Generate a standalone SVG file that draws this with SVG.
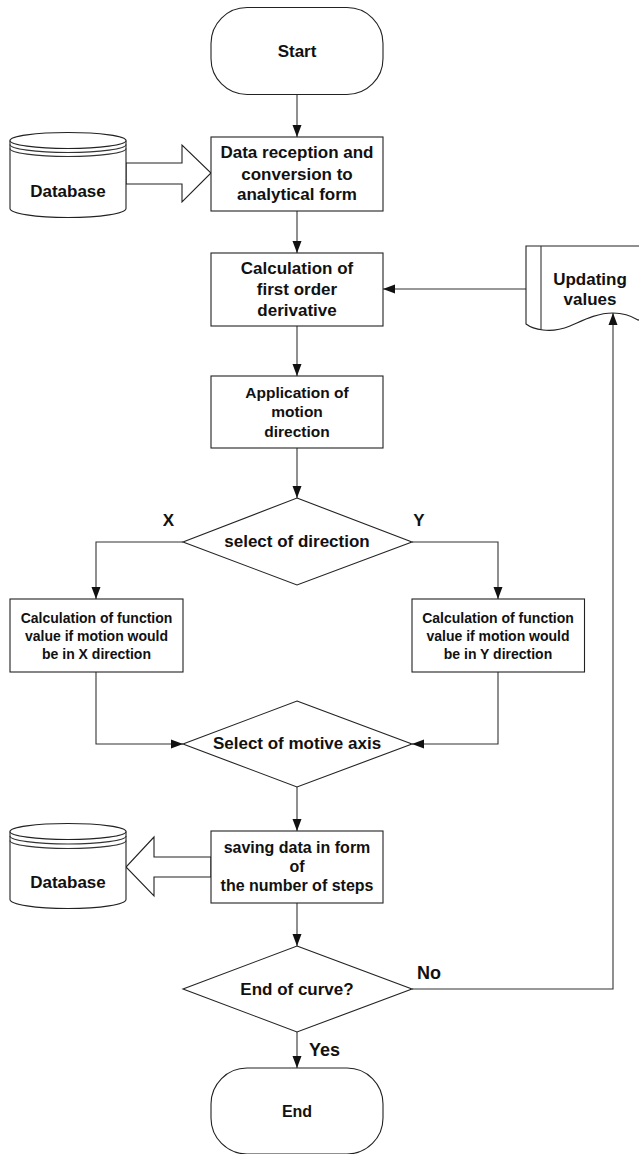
<svg xmlns="http://www.w3.org/2000/svg" width="639" height="1154" viewBox="0 0 639 1154">
<defs>
<marker id="ah" markerWidth="12" markerHeight="10" refX="12" refY="5" orient="auto" markerUnits="userSpaceOnUse">
<path d="M0,0.5 L12,5 L0,9.5 Z" fill="#111"/>
</marker>
<style>
.s{fill:#fff;stroke:#222;stroke-width:1.1}
.c{fill:none;stroke:#333;stroke-width:1.1}
.t{font-family:"Liberation Sans",Arial,sans-serif;font-weight:bold;fill:#111;text-anchor:middle}
.f17{font-size:17px}
.f16{font-size:16px}
.f15{font-size:15.5px}
.f14{font-size:14px}
.f18{font-size:18px}
</style>
</defs>
<rect width="639" height="1154" fill="#fff"/>

<g id="connectors">
<line class="c" x1="297" y1="94.5" x2="297" y2="137" marker-end="url(#ah)"/>
<line class="c" x1="297" y1="211" x2="297" y2="253" marker-end="url(#ah)"/>
<line class="c" x1="297" y1="326" x2="297" y2="376" marker-end="url(#ah)"/>
<line class="c" x1="297" y1="448" x2="297" y2="498" marker-end="url(#ah)"/>
<polyline class="c" points="183,542 96,542 96,599" marker-end="url(#ah)"/>
<polyline class="c" points="412,542 498,542 498,599" marker-end="url(#ah)"/>
<polyline class="c" points="96,672 96,744 183,744" marker-end="url(#ah)"/>
<polyline class="c" points="498,672 498,744 412,744" marker-end="url(#ah)"/>
<line class="c" x1="297" y1="787" x2="297" y2="831" marker-end="url(#ah)"/>
<line class="c" x1="297" y1="903" x2="297" y2="946" marker-end="url(#ah)"/>
<line class="c" x1="297" y1="1032" x2="297" y2="1068" marker-end="url(#ah)"/>
<polyline class="c" points="412,989 613,989 613,313" marker-end="url(#ah)"/>
<line class="c" x1="526" y1="289" x2="383" y2="289" marker-end="url(#ah)"/>
<polygon class="s" points="126,163 182,163 182,145 211,173 182,202 182,184 126,184"/>
<polygon class="s" points="211,857 154,857 154,837 126,867 154,896 154,877 211,877"/>
<text class="t f17" x="168.5" y="526">X</text>
<text class="t f17" x="419" y="526">Y</text>
<text class="t f18" x="417" y="979" style="text-anchor:start">No</text>
<text class="t f18" x="309" y="1056" style="text-anchor:start">Yes</text>
</g>

<g id="start">
<rect class="s" x="211" y="7.5" width="172" height="87" rx="36" ry="36"/>
<text class="t f17" x="297" y="57">Start</text>
</g>

<g id="db1">
<path class="s" d="M10,140.5 V208.5 A58,9 0 0 0 126,208.5 V140.5"/>
<ellipse class="s" cx="68" cy="140.5" rx="58" ry="8"/>
<path class="c" d="M10,144.5 A58,8 0 0 0 126,144.5 M10,148.5 A58,8 0 0 0 126,148.5"/>
<text class="t f17" x="68" y="197">Database</text>
</g>

<g id="reception">
<rect class="s" x="211" y="137" width="172" height="74"/>
<text class="t f17" x="297" y="158">Data reception and</text>
<text class="t f17" x="297" y="179.5">conversion to</text>
<text class="t f17" x="297" y="200">analytical form</text>
</g>

<g id="derivative">
<rect class="s" x="211" y="253" width="172" height="73"/>
<text class="t f17" x="297" y="274">Calculation of</text>
<text class="t f17" x="297" y="295">first order</text>
<text class="t f17" x="297" y="316">derivative</text>
</g>

<g id="updating">
<path class="s" d="M526,246 H650 V326 C645,322 640,319 638,320 C630,315 622,313 613,313 C595,313 580,322 570,326 C560,330 550,331 543,330 C535,329 530,327 526,324 Z"/>
<line class="c" x1="541" y1="246" x2="541" y2="329.5"/>
<text class="t f17" x="590" y="285">Updating</text>
<text class="t f17" x="590" y="305">values</text>
</g>

<g id="application">
<rect class="s" x="211" y="376" width="172" height="72"/>
<text class="t f15" x="297" y="398">Application of</text>
<text class="t f15" x="297" y="417">motion</text>
<text class="t f15" x="297" y="437">direction</text>
</g>

<g id="select-direction">
<polygon class="s" points="297,498 412,542 297,585 183,542"/>
<text class="t f17" x="297" y="547">select of direction</text>
</g>

<g id="calc-x">
<rect class="s" x="10" y="599" width="173" height="73"/>
<text class="t f14" x="96.5" y="623">Calculation of function</text>
<text class="t f14" x="96.5" y="640.5">value if motion would</text>
<text class="t f14" x="96.5" y="658.5">be in X direction</text>
</g>

<g id="calc-y">
<rect class="s" x="412" y="599" width="172.5" height="73"/>
<text class="t f14" x="498" y="623">Calculation of function</text>
<text class="t f14" x="498" y="640.5">value if motion would</text>
<text class="t f14" x="498" y="658.5">be in Y direction</text>
</g>

<g id="select-axis">
<polygon class="s" points="297,701 412,744 297,787 183,744"/>
<text class="t f17" x="297" y="749">Select of motive axis</text>
</g>

<g id="saving">
<rect class="s" x="211" y="831" width="172" height="72"/>
<text class="t f16" x="297" y="853">saving data in form</text>
<text class="t f16" x="297" y="872">of</text>
<text class="t f16" x="297" y="891">the number of steps</text>
</g>

<g id="db2">
<path class="s" d="M10,831.5 V899.5 A58,9 0 0 0 126,899.5 V831.5"/>
<ellipse class="s" cx="68" cy="831.5" rx="58" ry="8"/>
<path class="c" d="M10,836 A58,8 0 0 0 126,836 M10,840.5 A58,8 0 0 0 126,840.5"/>
<text class="t f17" x="68" y="888">Database</text>
</g>

<g id="end-curve">
<polygon class="s" points="297,946 412,989 297,1032 183,989"/>
<text class="t f17" x="297" y="995">End of curve?</text>
</g>

<g id="end">
<rect class="s" x="211" y="1068" width="172" height="86" rx="36" ry="36"/>
<text class="t f16" x="297" y="1117">End</text>
</g>
</svg>
